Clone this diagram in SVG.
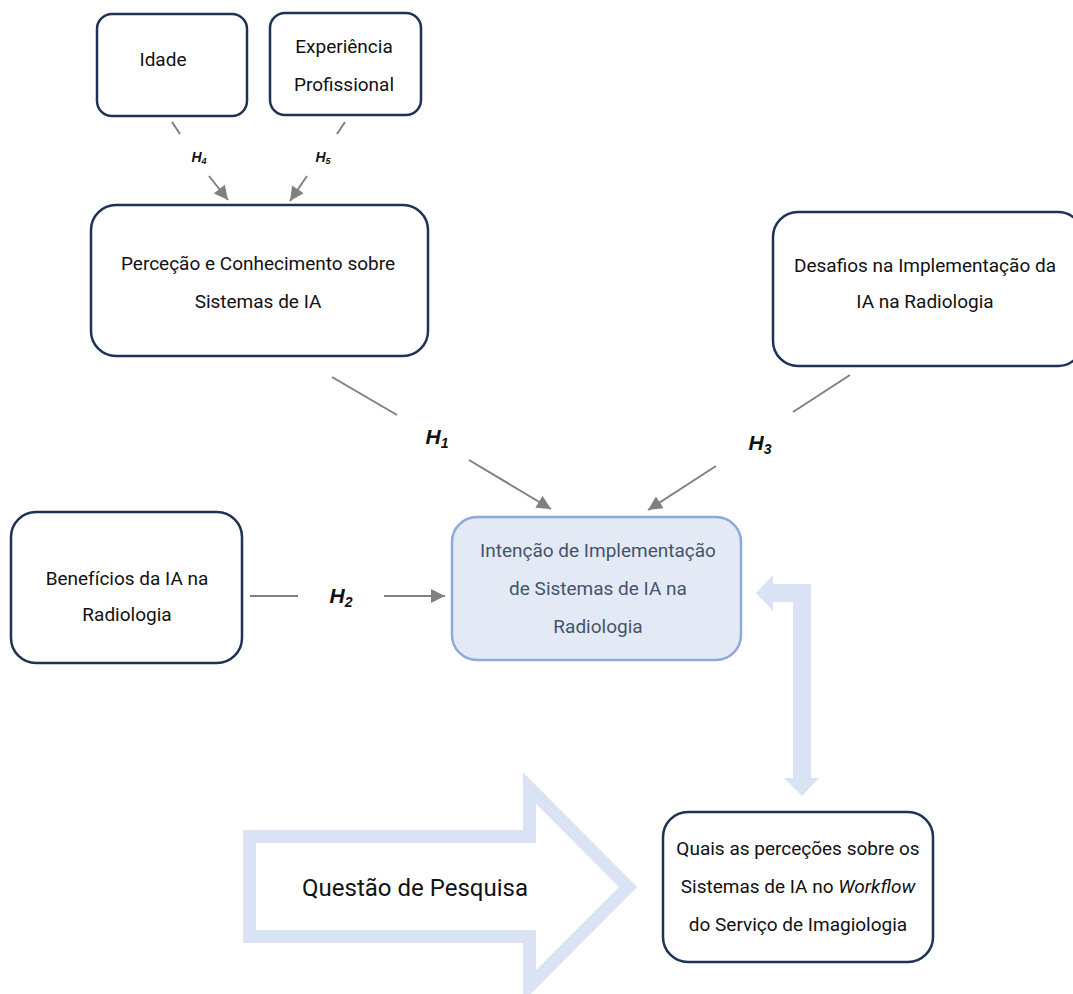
<svg xmlns="http://www.w3.org/2000/svg" width="1073" height="994" viewBox="0 0 1073 994">
  <style>
    .box { fill: #ffffff; stroke: #1f3256; stroke-width: 2.5; }
    .focus { fill: #e3e9f5; stroke: #8eaadb; stroke-width: 2.5; }
    .t { font-family: Roboto, "Liberation Sans", sans-serif; font-size: 19px; fill: #111111; text-anchor: middle; }
    .tf { fill: #44546a; }
    .conn { stroke: #808080; stroke-width: 2; fill: none; }
    .h { font-family: "Liberation Sans", Arial, sans-serif; font-weight: bold; font-style: italic; fill: #111111; text-anchor: middle; }
    .big { fill: #dae3f3; }
  </style>
  <defs>
    <marker id="triS" viewBox="0 0 10 10" refX="10" refY="5" markerWidth="7.5" markerHeight="7" orient="auto">
      <path d="M0,0 L10,5 L0,10 Z" fill="#808080"/>
    </marker>
  </defs>

  <!-- big research-question arrow and feedback arrow -->
  <g id="questao">
    <polygon points="249.5,836.5 529.5,836.5 529.5,788 628,887 529.5,986 529.5,936.5 249.5,936.5" fill="none" stroke="#dae3f3" stroke-width="13" stroke-linejoin="miter"/>
    <text class="t" x="415" y="896" style="font-size:24px">Questão de Pesquisa</text>
  </g>
  <g id="feedback">
    <polygon class="big" points="756,593 773,575 773,584 811,584 811,778 819,778 802,796 784,778 793,778 793,602 773,602 773,611"/>
  </g>

  <!-- connectors -->
  <g id="connectors">
    <line class="conn" x1="172" y1="122" x2="180" y2="134"/>
    <line class="conn" x1="209" y1="176" x2="228" y2="200" marker-end="url(#triS)"/>
    <line class="conn" x1="345" y1="122" x2="337" y2="134"/>
    <line class="conn" x1="307" y1="176" x2="290" y2="201" marker-end="url(#triS)"/>
    <line class="conn" x1="332" y1="377" x2="397" y2="415"/>
    <line class="conn" x1="469" y1="460" x2="551" y2="509" marker-end="url(#triS)"/>
    <line class="conn" x1="850" y1="375" x2="793" y2="412"/>
    <line class="conn" x1="716" y1="466" x2="648" y2="510" marker-end="url(#triS)"/>
    <line class="conn" x1="250" y1="596" x2="298" y2="596"/>
    <line class="conn" x1="384" y1="596" x2="445" y2="596" marker-end="url(#triS)"/>
    <text class="h" x="199" y="162" style="font-size:14px">H<tspan style="font-size:9px" dy="2">4</tspan></text>
    <text class="h" x="323" y="162" style="font-size:14px">H<tspan style="font-size:9px" dy="2">5</tspan></text>
    <text class="h" x="437" y="444" style="font-size:21px">H<tspan style="font-size:14px" dy="4">1</tspan></text>
    <text class="h" x="341" y="603" style="font-size:21px">H<tspan style="font-size:14px" dy="4">2</tspan></text>
    <text class="h" x="760" y="450" style="font-size:21px">H<tspan style="font-size:14px" dy="4">3</tspan></text>
  </g>

  <g id="idade">
    <rect class="box" x="97" y="14" width="150" height="102" rx="15"/>
    <text class="t" x="163" y="66">Idade</text>
  </g>
  <g id="experiencia">
    <rect class="box" x="270" y="13" width="151" height="102" rx="15"/>
    <text class="t" x="344" y="53">Experiência</text>
    <text class="t" x="344" y="91">Profissional</text>
  </g>
  <g id="percecao">
    <rect class="box" x="91" y="205" width="337" height="151" rx="25"/>
    <text class="t" x="258" y="270">Perceção e Conhecimento sobre</text>
    <text class="t" x="258" y="308">Sistemas de IA</text>
  </g>
  <g id="desafios">
    <rect class="box" x="773" y="212" width="310" height="154" rx="25"/>
    <text class="t" x="925" y="272">Desafios na Implementação da</text>
    <text class="t" x="925" y="308">IA na Radiologia</text>
  </g>
  <g id="beneficios">
    <rect class="box" x="11" y="512" width="231" height="151" rx="25"/>
    <text class="t" x="127" y="585">Benefícios da IA na</text>
    <text class="t" x="127" y="621">Radiologia</text>
  </g>
  <g id="intencao">
    <rect class="focus" x="452" y="517" width="289" height="143" rx="25"/>
    <text class="t tf" x="598" y="557">Intenção de Implementação</text>
    <text class="t tf" x="598" y="595">de Sistemas de IA na</text>
    <text class="t tf" x="598" y="633">Radiologia</text>
  </g>
  <g id="quais">
    <rect class="box" x="663" y="812" width="270" height="150" rx="25"/>
    <text class="t" x="798" y="855">Quais as perceções sobre os</text>
    <text class="t" x="798" y="893">Sistemas de IA no <tspan font-style="italic">Workflow</tspan></text>
    <text class="t" x="798" y="931">do Serviço de Imagiologia</text>
  </g>
</svg>
